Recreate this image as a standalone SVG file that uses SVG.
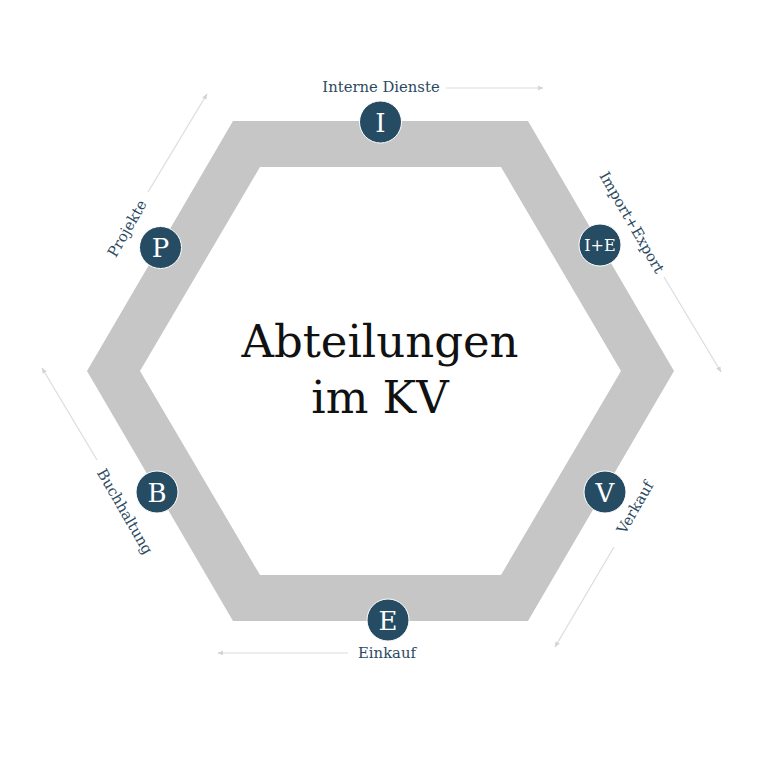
<svg xmlns="http://www.w3.org/2000/svg" width="768" height="768" viewBox="0 0 768 768">
<style>
.lbl{font-family:"DejaVu Serif","Liberation Serif",serif;font-size:14.8px;fill:#2b4a5f;text-anchor:middle}
.node circle{fill:#264c64;stroke:#ffffff;stroke-width:1}
.node text{font-family:"DejaVu Serif","Liberation Serif",serif;fill:#ffffff;text-anchor:middle}
.big{font-size:26px}
.small{font-size:16px}
.arr{stroke:#dcdcdc;stroke-width:1.2;fill:none;marker-end:url(#ah)}
.title{font-family:"DejaVu Serif","Liberation Serif",serif;font-size:45px;fill:#111111;text-anchor:middle}
</style>
<defs>
<marker id="ah" viewBox="0 0 10 10" refX="9" refY="5" markerWidth="6" markerHeight="6" orient="auto" markerUnits="userSpaceOnUse">
<path d="M0,1 L10,5 L0,9 z" fill="#d4d4d4"/>
</marker>
</defs>
<rect width="768" height="768" fill="#ffffff"/>
<path id="ring" fill="#c6c6c6" fill-rule="evenodd" d="M233,121 L528,121 L674,371 L528,621 L233,621 L87,371 Z M260,167 L501,167 L621,371 L501,575 L260,575 L140,371 Z"/>
<g id="title">
<text class="title" x="380" y="357">Abteilungen</text>
<text class="title" x="380" y="413">im KV</text>
</g>
<g id="connectors">
<line class="arr" x1="446" y1="88" x2="543" y2="88"/>
<line class="arr" x1="664" y1="277" x2="721" y2="372"/>
<line class="arr" x1="614" y1="547" x2="555" y2="647"/>
<line class="arr" x1="348" y1="653" x2="218" y2="653"/>
<line class="arr" x1="97" y1="460" x2="42" y2="368"/>
<line class="arr" x1="148" y1="192" x2="207" y2="94"/>
</g>
<g id="labels">
<text class="lbl" x="381" y="92">Interne Dienste</text>
<text class="lbl" transform="translate(627.5,225) rotate(60)">Import+Export</text>
<text class="lbl" transform="translate(639.5,510) rotate(-60)">Verkauf</text>
<text class="lbl" x="387" y="658">Einkauf</text>
<text class="lbl" transform="translate(120.5,514) rotate(60)">Buchhaltung</text>
<text class="lbl" transform="translate(131.5,231) rotate(-60)">Projekte</text>
</g>
<g id="node-I" class="node"><circle cx="380.5" cy="122" r="21"/><text class="big" x="380.5" y="131.5">I</text></g>
<g id="node-IE" class="node"><circle cx="600" cy="245" r="21"/><text class="small" x="600" y="251">I+E</text></g>
<g id="node-V" class="node"><circle cx="605" cy="492" r="21"/><text class="big" x="605" y="501.5">V</text></g>
<g id="node-E" class="node"><circle cx="388" cy="620" r="21"/><text class="big" x="388" y="629.5">E</text></g>
<g id="node-B" class="node"><circle cx="157" cy="492" r="21"/><text class="big" x="157" y="501.5">B</text></g>
<g id="node-P" class="node"><circle cx="160.5" cy="247.5" r="21"/><text class="big" x="160.5" y="257">P</text></g>
</svg>
